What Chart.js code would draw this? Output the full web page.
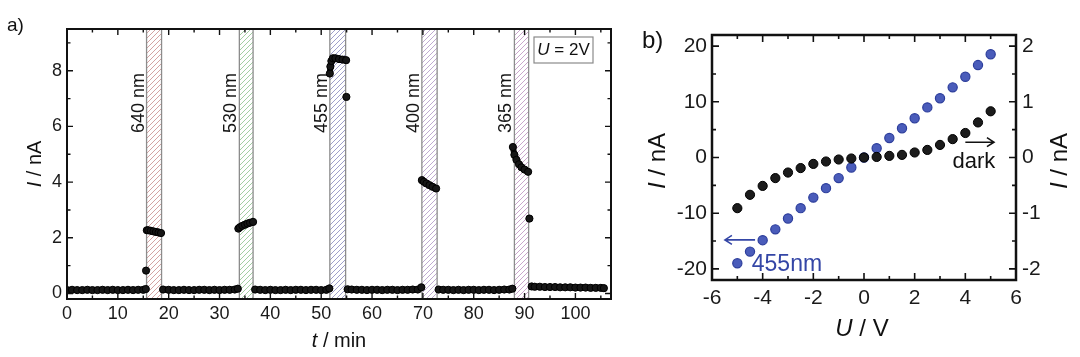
<!DOCTYPE html>
<html><head><meta charset="utf-8">
<script src="https://cdn.jsdelivr.net/npm/chart.js@4.4.1/dist/chart.umd.min.js"></script>
<style>
html,body{margin:0;padding:0;background:#fff;overflow:hidden;}
#wrap{position:relative;width:1080px;height:357px;}
canvas{position:absolute;top:0;}
#ca{left:0;}
#cb{left:630px;}
</style></head><body>
<div id="wrap">
<canvas id="ca" width="630" height="357"></canvas>
<canvas id="cb" width="450" height="357"></canvas>
</div>
<script>
const FONT = "'Liberation Sans', Arial, Helvetica, sans-serif";

// ---------------- panel a) : photocurrent vs time ----------------
const timeMin = [
  0,1,2,3,4,5,6,7,8,9,10,11,12,13,14,15,15.5, null,
  15.55, null,
  15.7,16.0,16.5,17.0,17.5,18.0,18.5, null,
  18.9,20,21,22,23,24,25,26,27,28,29,30,31,32,33,33.6, null,
  33.7,34.0,34.5,35.0,35.5,36.0,36.6, null,
  37.0,38,39,40,41,42,43,44,45,46,47,48,49,50,51,51.6, null,
  51.7,51.8,52.0,52.3,52.8,53.5,54.2,54.9, null,
  54.95, null,
  55.2,56,57,58,59,60,61,62,63,64,65,66,67,68,69,69.7, null,
  69.8,70.2,70.7,71.3,71.9,72.6, null,
  73.1,74,75,76,77,78,79,80,81,82,83,84,85,86,87,87.6, null,
  87.7,88.0,88.4,88.9,89.4,90.0,90.7, null,
  90.95, null,
  91.4,92,93,94,95,96,97,98,99,100,101,102,103,104,105,105.6
];
const currentNA = [
  0.12,0.13,0.12,0.12,0.13,0.12,0.12,0.13,0.12,0.13,0.12,0.12,0.13,0.12,0.13,0.13,0.16, null,
  0.82, null,
  2.27,2.27,2.25,2.23,2.21,2.19,2.17, null,
  0.14,0.13,0.12,0.12,0.13,0.12,0.12,0.13,0.13,0.12,0.13,0.12,0.13,0.13,0.14,0.17, null,
  2.33,2.38,2.43,2.47,2.51,2.54,2.57, null,
  0.14,0.13,0.12,0.13,0.12,0.12,0.13,0.12,0.13,0.13,0.12,0.13,0.13,0.12,0.13,0.18, null,
  7.90,8.15,8.35,8.45,8.45,8.42,8.40,8.38, null,
  7.06, null,
  0.15,0.14,0.13,0.13,0.12,0.13,0.13,0.12,0.13,0.13,0.12,0.13,0.13,0.14,0.14,0.22, null,
  4.07,4.01,3.95,3.89,3.83,3.77, null,
  0.14,0.13,0.13,0.12,0.13,0.12,0.13,0.13,0.12,0.13,0.13,0.12,0.13,0.14,0.14,0.17, null,
  5.26,4.98,4.80,4.64,4.53,4.45,4.37, null,
  2.69, null,
  0.25,0.24,0.24,0.23,0.23,0.23,0.22,0.22,0.22,0.21,0.21,0.21,0.20,0.20,0.20,0.19
];
const xTicksA = [0,10,20,30,40,50,60,70,80,90,100];
const xMinorA = [5,15,25,35,45,55,65,75,85,95,105];
const yTicksA = [0,2,4,6,8];
const yMinorA = [1,3,5,7,9];
const bandStart  = [15.65, 33.9, 51.7, 69.8, 88.0];
const bandEnd    = [18.6, 36.6, 54.8, 72.8, 90.8];
const bandLabels = ['640 nm','530 nm','455 nm','400 nm','365 nm'];
const bandColors = ['#cf9898','#98c898','#9494c4','#b8a0cc','#c49cc6'];

// ---------------- panel b) : I-V curves ----------------
const voltage = [-5,-4.5,-4,-3.5,-3,-2.5,-2,-1.5,-1,-0.5,0,0.5,1,1.5,2,2.5,3,3.5,4,4.5,5];
const current455 = [-19.0,-16.9,-14.85,-12.9,-10.95,-9.1,-7.2,-5.5,-3.7,-1.8,0.0,1.67,3.5,5.26,7.05,9.0,10.65,12.6,14.5,16.6,18.55];
const currentDark = [-0.91,-0.67,-0.51,-0.37,-0.27,-0.19,-0.115,-0.072,-0.036,-0.018,0.0,0.01,0.029,0.047,0.09,0.136,0.226,0.33,0.44,0.63,0.83];
const xTicksB = [-6,-4,-2,0,2,4,6];
const xMinorB = [-5,-3,-1,1,3,5];
const yTicksBL = [-20,-10,0,10,20];
const yMinorBL = [-15,-5,5,15];
const yTicksBR = [-2,-1,0,1,2];
const yMinorBR = [-1.5,-0.5,0.5,1.5];

// ---------------- helpers ----------------
function hatch(ctx, color){
  const n = 5;
  const c = document.createElement('canvas'); c.width = n; c.height = n;
  const g = c.getContext('2d');
  g.fillStyle = '#fff'; g.fillRect(0,0,n,n);
  g.strokeStyle = color; g.lineWidth = 0.9;
  g.beginPath(); g.moveTo(0,n); g.lineTo(n,0); g.moveTo(-1,1); g.lineTo(1,-1); g.moveTo(n-1,n+1); g.lineTo(n+1,n-1); g.stroke();
  return ctx.createPattern(c,'repeat');
}
function richText(ctx, parts, x, y, size, rot, color, align){
  ctx.save();
  ctx.translate(x,y); if(rot) ctx.rotate(rot);
  ctx.fillStyle = color || '#111'; ctx.textBaseline = 'middle'; ctx.textAlign = 'left';
  let w = 0;
  parts.forEach(p=>{ ctx.font = (p.it?'italic ':'')+size+'px '+FONT; w += ctx.measureText(p.t).width; });
  let cx = align === 'left' ? 0 : -w/2;
  parts.forEach(p=>{ ctx.font = (p.it?'italic ':'')+size+'px '+FONT; ctx.fillText(p.t,cx,0); cx += ctx.measureText(p.t).width; });
  ctx.restore();
}
function frameTicks(chart, cfg){
  const {ctx, chartArea:{left,right,top,bottom}} = chart;
  ctx.save();
  ctx.strokeStyle = '#111'; ctx.lineWidth = cfg.lw;
  ctx.strokeRect(left,top,right-left,bottom-top);
  ctx.lineWidth = cfg.tw;
  ctx.beginPath();
  const xs = chart.scales.x;
  const tickX = (vals,len)=>vals.forEach(v=>{const p=xs.getPixelForValue(v); if(p<left+1||p>right-1) return; ctx.moveTo(p,bottom); ctx.lineTo(p,bottom-len); ctx.moveTo(p,top); ctx.lineTo(p,top+len);});
  tickX(cfg.xMaj,cfg.maj); tickX(cfg.xMin,cfg.min);
  const tickY = (sc,vals,len,side)=>vals.forEach(v=>{const p=sc.getPixelForValue(v); if(p<top+1||p>bottom-1) return;
    if(side!=='right'){ctx.moveTo(left,p); ctx.lineTo(left+len,p);}
    if(side!=='left'){ctx.moveTo(right,p); ctx.lineTo(right-len,p);} });
  if(cfg.yR){
    tickY(chart.scales.y,cfg.yMaj,cfg.maj,'left'); tickY(chart.scales.y,cfg.yMin,cfg.min,'left');
    tickY(chart.scales.yR,cfg.yRMaj,cfg.maj,'right'); tickY(chart.scales.yR,cfg.yRMin,cfg.min,'right');
  } else {
    tickY(chart.scales.y,cfg.yMaj,cfg.maj,'both'); tickY(chart.scales.y,cfg.yMin,cfg.min,'both');
  }
  ctx.stroke();
  ctx.restore();
}
function arrow(ctx,x0,y,x1,color){
  ctx.save(); ctx.strokeStyle=color; ctx.lineWidth=1.6;
  ctx.beginPath(); ctx.moveTo(x0,y); ctx.lineTo(x1,y);
  const d = x1>x0?-1:1;
  ctx.moveTo(x1+d*7,y-4.5); ctx.lineTo(x1,y); ctx.lineTo(x1+d*7,y+4.5);
  ctx.stroke(); ctx.restore();
}

// ---------------- chart a ----------------
const pluginA = {
  id:'decorA',
  beforeDatasetsDraw(chart){
    const {ctx, chartArea:{top,bottom}} = chart; const xs = chart.scales.x;
    bandStart.forEach((s,i)=>{
      const x0 = xs.getPixelForValue(s), x1 = xs.getPixelForValue(bandEnd[i]);
      ctx.save();
      ctx.fillStyle = hatch(ctx,bandColors[i]);
      ctx.fillRect(x0,top,x1-x0,bottom-top);
      ctx.strokeStyle='#8c8c8c'; ctx.lineWidth=1.3;
      ctx.beginPath(); ctx.moveTo(x0,top); ctx.lineTo(x0,bottom); ctx.moveTo(x1,top); ctx.lineTo(x1,bottom); ctx.stroke();
      ctx.translate(x0-8, top+74); ctx.rotate(-Math.PI/2);
      ctx.font = '18px '+FONT; ctx.fillStyle='#151515'; ctx.textAlign='center'; ctx.textBaseline='middle';
      ctx.fillText(bandLabels[i],0,0);
      ctx.restore();
    });
  },
  afterDatasetsDraw(chart){
    const {ctx, chartArea:{left,right,top,bottom}} = chart;
    frameTicks(chart,{lw:2,tw:1.4,maj:6,min:3.5,xMaj:xTicksA,xMin:xMinorA,yMaj:yTicksA,yMin:yMinorA});
    ctx.save();
    ctx.strokeStyle='#8a8a8a'; ctx.lineWidth=1.2; ctx.fillStyle='#fff';
    ctx.fillRect(right-77,top+8,59,26); ctx.strokeRect(right-77,top+8,59,26);
    ctx.restore();
    richText(ctx,[{t:'U',it:true},{t:' = 2V'}], right-47.5, top+21.5, 17, 0, '#111');
    richText(ctx,[{t:'I',it:true},{t:' / nA'}], 35, (top+bottom)/2, 20, -Math.PI/2, '#111');
    richText(ctx,[{t:'t',it:true},{t:' / min'}], (left+right)/2, 341, 20, 0, '#111');
    ctx.save(); ctx.font='19px '+FONT; ctx.fillStyle='#111'; ctx.textBaseline='alphabetic'; ctx.fillText('a)',7,31); ctx.restore();
  }
};

new Chart(document.getElementById('ca'), {
  type:'scatter',
  data:{datasets:[{
    data: timeMin.map((t,i)=>({x:t, y:currentNA[i]})),
    showLine:true, spanGaps:false,
    borderColor:'#0d0d0d', borderWidth:6, borderCapStyle:'round', borderJoinStyle:'round',
    pointRadius:3.6, pointBackgroundColor:'#161616', pointBorderColor:'#000', pointBorderWidth:1,
    tension:0
  }]},
  options:{
    responsive:false, animation:false, devicePixelRatio:1,
    layout:{padding:{left:0,top:29,right:19,bottom:0}},
    plugins:{legend:{display:false}, tooltip:{enabled:false}},
    scales:{
      x:{type:'linear', min:0, max:107,
        afterBuildTicks:s=>{s.ticks = xTicksA.map(v=>({value:v}));},
        afterFit:s=>{s.height = 58;},
        ticks:{font:{family:FONT,size:18}, color:'#1a1a1a', padding:4, maxRotation:0, autoSkip:false},
        grid:{display:false, drawTicks:false}, border:{display:false}},
      y:{type:'linear', min:-0.2, max:9.5,
        afterBuildTicks:s=>{s.ticks = yTicksA.map(v=>({value:v}));},
        afterFit:s=>{s.width = 67;},
        ticks:{font:{family:FONT,size:18}, color:'#1a1a1a', padding:5},
        grid:{display:false, drawTicks:false}, border:{display:false}}
    }
  },
  plugins:[pluginA]
});

// ---------------- chart b ----------------
const pluginB = {
  id:'decorB',
  afterDatasetsDraw(chart){
    const {ctx, chartArea:{left,right,top,bottom}} = chart;
    const xs = chart.scales.x, ys = chart.scales.y;
    frameTicks(chart,{lw:2.5,tw:1.6,maj:7,min:4,xMaj:xTicksB,xMin:xMinorB,yMaj:yTicksBL,yMin:yMinorBL,yR:true,yRMaj:yTicksBR,yRMin:yMinorBR});
    arrow(ctx, xs.getPixelForValue(4.0), ys.getPixelForValue(2.75), xs.getPixelForValue(5.13), '#111');
    ctx.save(); ctx.font='22px '+FONT; ctx.fillStyle='#111'; ctx.textAlign='center'; ctx.textBaseline='middle';
    ctx.fillText('dark', xs.getPixelForValue(4.34), ys.getPixelForValue(-0.85)); ctx.restore();
    arrow(ctx, xs.getPixelForValue(-4.3), ys.getPixelForValue(-14.8), xs.getPixelForValue(-5.49), '#3446a6');
    ctx.save(); ctx.font='23px '+FONT; ctx.fillStyle='#3446a6'; ctx.textAlign='left'; ctx.textBaseline='middle';
    ctx.fillText('455nm', xs.getPixelForValue(-4.43), ys.getPixelForValue(-19.3)); ctx.restore();
    richText(ctx,[{t:'I',it:true},{t:' / nA'}], 28, 161, 24, -Math.PI/2, '#111');
    richText(ctx,[{t:'I',it:true},{t:' / nA'}], 430, 161, 24, -Math.PI/2, '#111');
    richText(ctx,[{t:'U',it:true},{t:' / V'}], 232, 329, 24, 0, '#111');
    ctx.save(); ctx.font='24px '+FONT; ctx.fillStyle='#111'; ctx.textBaseline='alphabetic'; ctx.fillText('b)',12,48); ctx.restore();
  }
};

new Chart(document.getElementById('cb'), {
  type:'scatter',
  data:{datasets:[
    {data: voltage.map((v,i)=>({x:v,y:currentDark[i]})), yAxisID:'yR',
     pointRadius:4.6, pointBackgroundColor:'#1c1c1c', pointBorderColor:'#000', pointBorderWidth:1},
    {data: voltage.map((v,i)=>({x:v,y:current455[i]})), yAxisID:'y',
     pointRadius:4.6, pointBackgroundColor:'#4a5cba', pointBorderColor:'#2d3e9c', pointBorderWidth:1.2}
  ]},
  options:{
    responsive:false, animation:false, devicePixelRatio:1,
    layout:{padding:{left:0,top:35,right:0,bottom:0}},
    plugins:{legend:{display:false}, tooltip:{enabled:false}},
    scales:{
      x:{type:'linear', min:-6, max:6,
        afterBuildTicks:s=>{s.ticks = xTicksB.map(v=>({value:v}));},
        afterFit:s=>{s.height = 77;},
        ticks:{font:{family:FONT,size:21}, color:'#1a1a1a', padding:6, maxRotation:0, autoSkip:false},
        grid:{display:false, drawTicks:false}, border:{display:false}},
      y:{type:'linear', position:'left', min:-22, max:22,
        afterBuildTicks:s=>{s.ticks = yTicksBL.map(v=>({value:v}));},
        afterFit:s=>{s.width = 82;},
        ticks:{font:{family:FONT,size:21}, color:'#1a1a1a', padding:5},
        grid:{display:false, drawTicks:false}, border:{display:false}},
      yR:{type:'linear', position:'right', min:-2.2, max:2.2,
        afterBuildTicks:s=>{s.ticks = yTicksBR.map(v=>({value:v}));},
        afterFit:s=>{s.width = 64;},
        ticks:{font:{family:FONT,size:21}, color:'#1a1a1a', padding:6},
        grid:{display:false, drawTicks:false}, border:{display:false}}
    }
  },
  plugins:[pluginB]
});
</script>
</body></html>
